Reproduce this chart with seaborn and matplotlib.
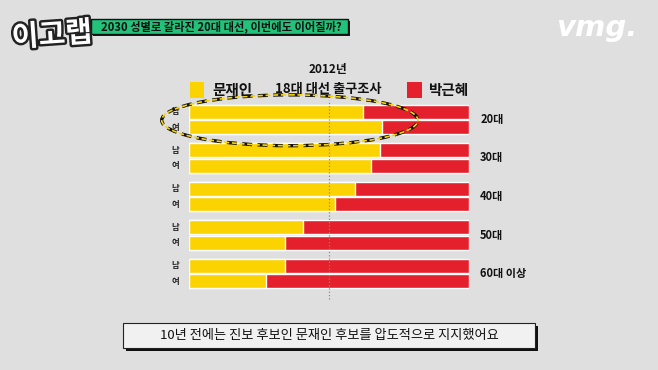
import pandas as pd
import numpy as np
import matplotlib.pyplot as plt
import matplotlib.patheffects as pe
from matplotlib.patches import Rectangle, Ellipse
import seaborn as sns

# 2012 18대 대선 출구조사 - 연령/성별 득표율 (%)
ages = ['20대', '30대', '40대', '50대', '60대 이상']
genders = ['남', '여']
moon_male = [62.3, 68.2, 59.3, 40.6, 34.2]
moon_female = [69.0, 65.1, 52.0, 34.2, 27.5]
park_male = [37.7, 31.8, 40.7, 59.4, 65.8]
park_female = [31.0, 34.9, 48.0, 65.8, 72.5]

rows = []
for i, a in enumerate(ages):
    rows.append({'age': a, 'gender': '남', 'moon': moon_male[i], 'park': park_male[i]})
    rows.append({'age': a, 'gender': '여', 'moon': moon_female[i], 'park': park_female[i]})
df = pd.DataFrame(rows)
df['total'] = df['moon'] + df['park']

sns.set_theme(style='white')
plt.rcParams['font.family'] = ['Noto Sans CJK KR', 'DejaVu Sans']

BG = '#dfdfdf'
YELLOW = '#fbd300'
RED = '#e3202b'
W, H = 658, 370

def fx(x):
    return x / W

def fy(y):
    return 1 - y / H

fig = plt.figure(figsize=(6.58, 3.70), dpi=100, facecolor=BG)

# main bar axes: x 0..100 -> px 189..469
ax = fig.add_axes([fx(189), fy(292.75), (469 - 189) / W, 192.5 / H])
ax.set_facecolor('none')

sns.barplot(data=df, y='age', x='total', hue='gender', hue_order=genders,
            order=ages, palette=[RED, RED], saturation=1, width=0.8, gap=0.1,
            legend=False, ax=ax, orient='h', errorbar=None)
sns.barplot(data=df, y='age', x='moon', hue='gender', hue_order=genders,
            order=ages, palette=[YELLOW, YELLOW], saturation=1, width=0.8, gap=0.1,
            legend=False, ax=ax, orient='h', errorbar=None)

ax.set_xlim(0, 100)
ax.set_ylim(4.5, -0.5)
ax.axvline(50, ymin=-0.03, ymax=1.0, color='#8a8a8a', ls=':', lw=0.9, zorder=5, clip_on=False)
for s in ax.spines.values():
    s.set_visible(False)
ax.set_xticks([])
ax.set_yticks([])
ax.set_xlabel('')
ax.set_ylabel('')

for i, a in enumerate(ages):
    ax.text(-5, i - 0.2, '남', ha='center', va='center', fontsize=6, fontweight='bold', color='#222')
    ax.text(-5, i + 0.2, '여', ha='center', va='center', fontsize=6, fontweight='bold', color='#222')
    ax.text(104, i, a, ha='left', va='center', fontsize=8, fontweight='bold', color='#111')

# dashed highlight around 20대
for col, lw in [('#111111', 2.4), (YELLOW, 1.2)]:
    e = Ellipse((36, 0.02), 91.5, 1.32, fill=False, edgecolor=col, lw=lw,
                ls=(0, (3, 1.6)), clip_on=False, zorder=6)
    ax.add_patch(e)

# legend + title
fig.patches.append(Rectangle((fx(190), fy(98)), 14 / W, 16 / H, transform=fig.transFigure,
                             facecolor=YELLOW, edgecolor='none'))
fig.text(fx(212), fy(90), '문재인', ha='left', va='center', fontsize=10.5, fontweight='bold', color='#111')
fig.patches.append(Rectangle((fx(407), fy(98)), 15 / W, 16 / H, transform=fig.transFigure,
                             facecolor=RED, edgecolor='none'))
fig.text(fx(428), fy(90), '박근혜', ha='left', va='center', fontsize=10.5, fontweight='bold', color='#111')
fig.text(fx(328), fy(70), '2012년', ha='center', va='center', fontsize=8.5, fontweight='bold', color='#111')
fig.text(fx(328), fy(89), '18대 대선 출구조사', ha='center', va='center', fontsize=9.5, fontweight='bold', color='#111')

# top banner
fig.patches.append(Rectangle((fx(93), fy(36)), 257 / W, 15 / H, transform=fig.transFigure,
                             facecolor='#1a1a1a', edgecolor='none'))
fig.patches.append(Rectangle((fx(91), fy(34)), 257 / W, 15 / H, transform=fig.transFigure,
                             facecolor='#22c27a', edgecolor='#111', lw=1.0))
fig.text(fx(221), fy(26.5), '2030 성별로 갈라진 20대 대선, 이번에도 이어질까?', ha='center', va='center',
         fontsize=8.1, fontweight='bold', color='#111')
fig.text(fx(52), fy(35), '이고랩', ha='center', va='center', fontsize=21, fontweight='bold',
         color='white', rotation=4,
         path_effects=[pe.withStroke(linewidth=3.5, foreground='#222')])

fig.text(fx(597), fy(28), 'vmg.', ha='center', va='center', fontsize=21, fontweight='bold',
         style='italic', color='white', family=['DejaVu Sans'])

# caption box
fig.patches.append(Rectangle((fx(126), fy(351)), 412 / W, 25 / H, transform=fig.transFigure,
                             facecolor='#111', edgecolor='none'))
fig.patches.append(Rectangle((fx(123), fy(348)), 412 / W, 25 / H, transform=fig.transFigure,
                             facecolor='#f1f1f1', edgecolor='#222', lw=0.8))
fig.text(fx(329), fy(336), '10년 전에는 진보 후보인 문재인 후보를 압도적으로 지지했어요', ha='center',
         va='center', fontsize=9.5, color='#111')

fig.savefig('out.png', dpi=100, facecolor=BG)
